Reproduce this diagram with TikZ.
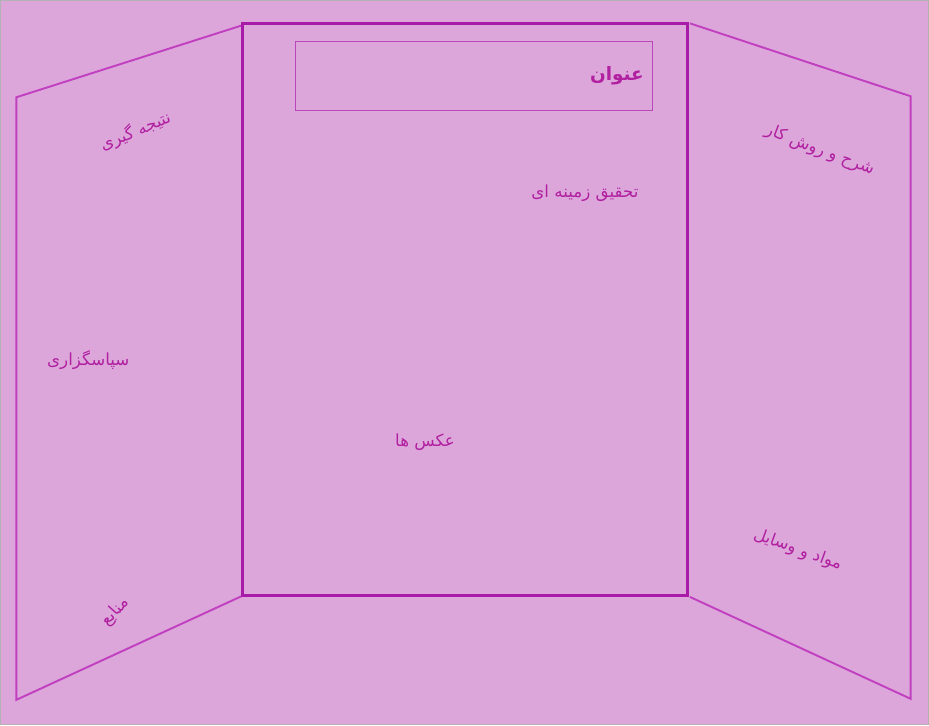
\documentclass[tikz,border=0pt]{standalone}
\usepackage{fontspec}
\newfontfamily\arabicfont[Script=Arabic]{DejaVu Sans}
\TeXXeTstate=1
\definecolor{boardbg}{RGB}{221,166,219}
\definecolor{boardline}{RGB}{168,26,168}
\definecolor{wingline}{RGB}{192,64,192}
\definecolor{boardtext}{RGB}{176,32,160}
\tikzset{
  lbl/.style={text=boardtext,font=\arabicfont\fontsize{9.5}{11}\selectfont,inner sep=1pt},
}
\begin{document}
\begin{tikzpicture}[x=0.02cm,y=-0.02cm]
    \fill[boardbg,draw=black!30,line width=0.4pt] (0,0) rectangle (929,725);
    \useasboundingbox (0,0) rectangle (929,725);

    % side wings
    \draw[wingline,line width=1.1pt,line join=miter]
    (242,25) -- (16,97) -- (16,700) -- (242,596);
    \draw[wingline,line width=1.1pt,line join=miter]
    (690,23) -- (911,96) -- (911,699) -- (690,597);

    % middle board
    \draw[boardline,line width=1.8pt] (242,23) rectangle (688,596);
    \draw[boardline!80,line width=0.7pt] (295,41) rectangle (653,110);

    \node[lbl,font=\arabicfont\bfseries\fontsize{10.5}{12}\selectfont,anchor=east] (title) at (646,75) {\beginR عنوان\endR};
    \node[lbl] (research) at (585,193) {\beginR تحقیق زمینه ای\endR};
    \node[lbl] (photos) at (425,442) {\beginR عکس ها\endR};

    \node[lbl,rotate=23] (result) at (135,131) {\beginR نتیجه گیری\endR};
    \node[lbl] (thanks) at (88,360) {\beginR سپاسگزاری\endR};
    \node[lbl,rotate=48] (refs) at (115,612) {\beginR منابع\endR};

    \node[lbl,rotate=-21] (method) at (820,150) {\beginR شرح و روش کار\endR};
    \node[lbl,rotate=-20] (material) at (798,550) {\beginR مواد و وسایل\endR};
  \end{tikzpicture}
\end{document}
